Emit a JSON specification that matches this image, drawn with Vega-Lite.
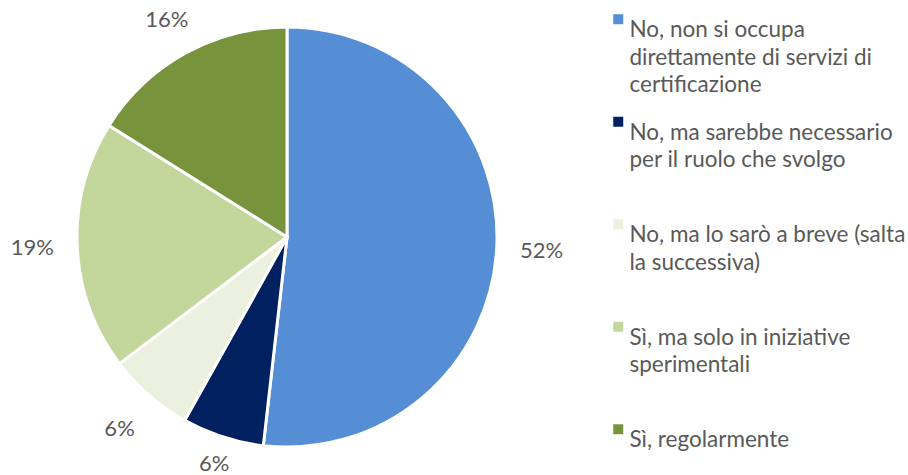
{
  "$schema": "https://vega.github.io/schema/vega-lite/v6.json",
  "width": 574,
  "height": 474,
  "autosize": {"type": "none"},
  "padding": {"left": 0, "top": 0, "right": 334, "bottom": 1},
  "background": "white",
  "data": {
    "values": [
      {"cat": "No, non si occupa direttamente di servizi di certificazione", "v": 51.8, "k": 1, "pct": "52%"},
      {"cat": "No, ma sarebbe necessario per il ruolo che svolgo", "v": 6.3, "k": 2, "pct": "6%"},
      {"cat": "No, ma lo sarò a breve (salta la successiva)", "v": 6.6, "k": 3, "pct": "6%"},
      {"cat": "Sì, ma solo in iniziative sperimentali", "v": 19.2, "k": 4, "pct": "19%"},
      {"cat": "Sì, regolarmente", "v": 16.1, "k": 5, "pct": "16%"}
    ]
  },
  "encoding": {
    "theta": {"field": "v", "type": "quantitative", "stack": true},
    "order": {"field": "k", "type": "quantitative"}
  },
  "layer": [
    {
      "mark": {"type": "arc", "outerRadius": 210, "stroke": "white", "strokeWidth": 3},
      "encoding": {
        "color": {
          "field": "cat",
          "type": "nominal",
          "scale": {
            "domain": [
              "No, non si occupa direttamente di servizi di certificazione",
              "No, ma sarebbe necessario per il ruolo che svolgo",
              "No, ma lo sarò a breve (salta la successiva)",
              "Sì, ma solo in iniziative sperimentali",
              "Sì, regolarmente"
            ],
            "range": ["#558ED5", "#002060", "#EBF1DE", "#C3D69B", "#77933C"]
          },
          "legend": {
            "title": null,
            "orient": "none",
            "legendX": 607,
            "legendY": 8,
            "symbolType": "square",
            "symbolSize": 100,
            "symbolStrokeWidth": 0,
            "labelFont": "Lato",
            "labelFontSize": 22.5,
            "labelColor": "#595959",
            "labelLimit": 320,
            "labelOffset": 0,
            "labelBaseline": "top",
            "rowPadding": 13.5,
            "labelExpr": "datum.label == 'No, non si occupa direttamente di servizi di certificazione' ? ['No, non si occupa','direttamente di servizi di','certificazione'] : datum.label == 'No, ma sarebbe necessario per il ruolo che svolgo' ? ['No, ma sarebbe necessario','per il ruolo che svolgo',' '] : datum.label == 'No, ma lo sarò a breve (salta la successiva)' ? ['No, ma lo sarò a breve (salta','la successiva)',' '] : datum.label == 'Sì, ma solo in iniziative sperimentali' ? ['Sì, ma solo in iniziative','sperimentali',' '] : ['Sì, regolarmente',' ',' ']",
            "encode": {"labels": {"update": {"lineHeight": {"value": 27.5}, "dy": {"value": -10}}}}
          }
        }
      }
    },
    {
      "mark": {"type": "text", "radius": {"expr": "datum.k == 2 ? 238 : datum.k == 5 ? 248 : 255"}, "fontSize": 22, "font": "Lato", "color": "#595959"},
      "encoding": {"text": {"field": "pct", "type": "nominal"}}
    }
  ],
  "config": {"view": {"stroke": null}, "style": {"guide-label": {"lineHeight": 27.5}}}
}
